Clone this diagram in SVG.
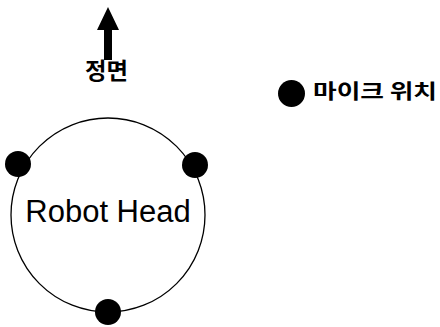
<svg xmlns="http://www.w3.org/2000/svg" width="440" height="327" viewBox="0 0 440 327">
<style>
.mic{fill:#000}
.lbl{font-family:"Noto Sans CJK KR","Noto Sans",sans-serif;fill:#000}
.en{font-family:"Liberation Sans",Arial,sans-serif;fill:#000}
</style>
<rect width="440" height="327" fill="#fff"/>
<g id="head">
<circle cx="108" cy="215" r="97" fill="none" stroke="#000" stroke-width="1.3"/>
<text class="en" x="108" y="222" font-size="31" text-anchor="middle">Robot Head</text>
</g>
<g id="mic-left"><circle class="mic" cx="18" cy="164" r="13"/></g>
<g id="mic-right"><circle class="mic" cx="195" cy="165" r="13"/></g>
<g id="mic-bottom"><circle class="mic" cx="108" cy="312" r="13"/></g>
<g id="connectors">
<polygon points="108,7 97,30 104,30 104,60 112,60 112,30 119,30" fill="#000"/>
</g>
<g id="front">
<text class="lbl" x="85" y="79" font-size="23" font-weight="bold" textLength="43" lengthAdjust="spacingAndGlyphs">정면</text>
</g>
<g id="legend">
<circle class="mic" cx="291.5" cy="93.5" r="13.5"/>
<text class="lbl" x="313" y="99" font-size="20" font-weight="bold" textLength="124" lengthAdjust="spacingAndGlyphs">마이크 위치</text>
</g>
</svg>
